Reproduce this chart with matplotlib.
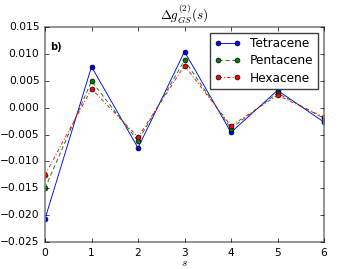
import matplotlib
matplotlib.use("Agg")
import matplotlib.pyplot as plt

plt.style.use('classic')

s = [0, 1, 2, 3, 4, 5, 6]
tetracene = [-0.0207, 0.0076, -0.0075, 0.0104, -0.0046, 0.0032, -0.0027]
pentacene = [-0.0150, 0.0049, -0.0062, 0.0088, -0.0039, 0.0027, -0.0020]
hexacene = [-0.0125, 0.0035, -0.0055, 0.0078, -0.0034, 0.0023, -0.0018]

fig = plt.figure(figsize=(3.6, 2.69), dpi=100)
ax = fig.add_subplot(111)

ax.plot(s, tetracene, 'b-', marker='o', markersize=3.5, lw=0.65, label='Tetracene')
ax.plot(s, pentacene, 'g--', marker='o', markersize=3.5, lw=0.65, dashes=(3, 2),
        label='Pentacene')
ax.plot(s, hexacene, 'r-.', marker='o', markersize=3.5, lw=0.65, dashes=(2.5, 1.5, 0.7, 1.5),
        label='Hexacene')

ax.set_xlim(0, 6)
ax.set_ylim(-0.025, 0.015)
ax.set_yticks([-0.025, -0.020, -0.015, -0.010, -0.005, 0.000, 0.005, 0.010, 0.015])
ax.tick_params(labelsize=7.7, length=3)
ax.set_xlabel('$s$', fontsize=8, labelpad=0)
ax.set_title(r'$\Delta g^{(2)}_{GS}(s)$', fontsize=9.5, pad=5)

for sp in ax.spines.values():
    sp.set_color('#808080')
    sp.set_linewidth(1.2)

ax.text(0.02, 0.93, 'b)', transform=ax.transAxes, fontsize=7, fontweight='bold', va='top')

leg = ax.legend(loc='upper right', fontsize=8.7, numpoints=2, handlelength=2.2,
                borderpad=0.35, labelspacing=0.35)
leg.get_frame().set_edgecolor('#404040')

fig.savefig('out.png', dpi=100)
